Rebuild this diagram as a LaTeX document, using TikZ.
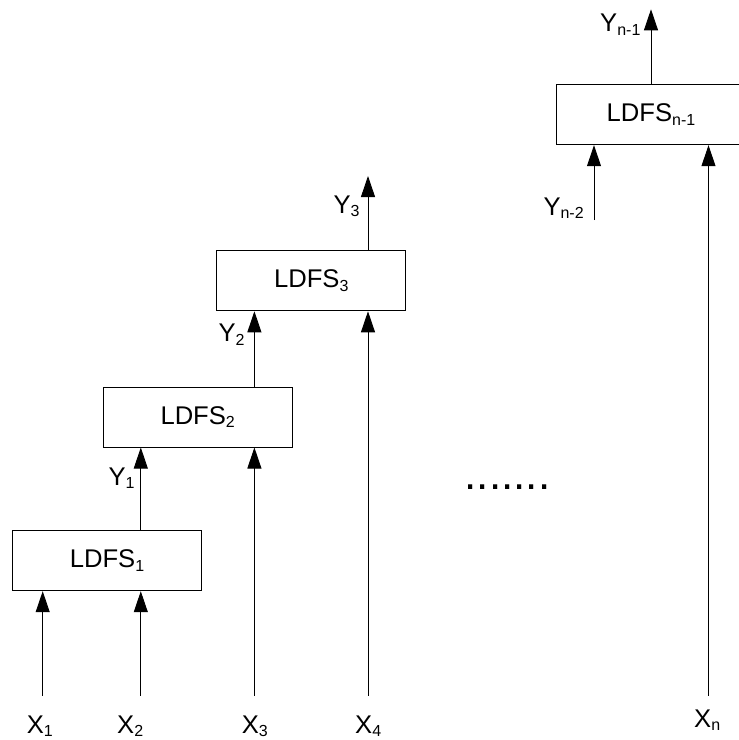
\documentclass[tikz,border=0pt]{standalone}
\usepackage{fontspec}
\setmainfont{Liberation Sans}
\usetikzlibrary{arrows.meta}
\newcommand{\lsub}[1]{\raisebox{-3.5pt}{\fontsize{16}{18}\selectfont #1}}
\begin{document}
\begin{tikzpicture}
[x=1pt, y=-1pt, font=\fontsize{25.6}{30}\selectfont]
\tikzstyle{block}=[draw, line width=1pt, minimum width=189pt, minimum height=60pt, inner sep=0pt]
\tikzstyle{flow}=[line width=0.9pt, -{Triangle[length=21pt, width=14pt]}]
\tikzstyle{lab}=[anchor=base west, inner sep=0pt]
\useasboundingbox (0,0) rectangle (739,740);

\node[block]	(L1)	at (107,560.7)		{LDFS\lsub{1}};
\node[block]	(L2)	at (197.7,417)		{LDFS\lsub{2}};
\node[block]	(L3)	at (311.3,280.8)	{LDFS\lsub{3}};
\node[block]	(Ln)	at (651,114.7)		{LDFS\lsub{n-1}};

\coordinate	(a1)	at (42.7,695.5);
\coordinate	(a2)	at (140.8,695.5);
\coordinate	(a3)	at (254.4,695.5);
\coordinate	(a4)	at (368,695.5);
\coordinate	(an)	at (708.5,695.5);
\coordinate	(y3)	at (368,176);
\coordinate	(yn)	at (651,9.3);
\coordinate	(ym)	at (594,220);

\node[lab]	(X1)	at (26.7,733.3)	{X\lsub{1}};
\node[lab]	(X2)	at (117,733.3)	{X\lsub{2}};
\node[lab]	(X3)	at (241.7,733.3)	{X\lsub{3}};
\node[lab]	(X4)	at (355,733.3)	{X\lsub{4}};
\node[lab]	(Xn)	at (694,727)	{X\lsub{n}};
\node[lab]	(Y1)	at (108.3,485)	{Y\lsub{1}};
\node[lab]	(Y2)	at (218.3,341.7)	{Y\lsub{2}};
\node[lab]	(Y3)	at (333.3,213)	{Y\lsub{3}};
\node[lab]	(Ym)	at (543.3,215)	{Y\lsub{n-2}};
\node[lab]	(Yn)	at (600,31.7)	{Y\lsub{n-1}};
\node[anchor=base, inner sep=0pt, font=\fontsize{44}{50}\selectfont]	(dots)	at (507.5,489.2)	{.......};

\draw[flow]	(a1) -- (a1 |- L1.south);
\draw[flow]	(a2) -- (a2 |- L1.south);
\draw[flow]	(a2 |- L1.north) -- (a2 |- L2.south);
\draw[flow]	(a3) -- (a3 |- L2.south);
\draw[flow]	(a3 |- L2.north) -- (a3 |- L3.south);
\draw[flow]	(a4) -- (a4 |- L3.south);
\draw[flow]	(a4 |- L3.north) -- (y3);
\draw[flow]	(ym) -- (ym |- Ln.south);
\draw[flow]	(an) -- (an |- Ln.south);
\draw[flow]	(Ln.north) -- (yn);
\end{tikzpicture}
\end{document}
